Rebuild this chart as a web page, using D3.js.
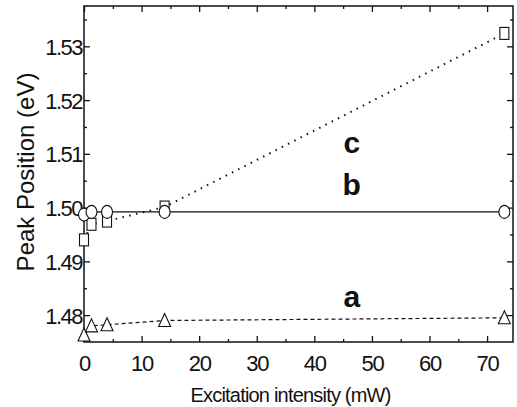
<!DOCTYPE html>
<html lang="en">
<head>
<meta charset="utf-8">
<style type="text/css">
    body { margin: 0; background: #fff; }
    text { font-family: "Liberation Sans", Arial, sans-serif; fill: #111; }
</style>
</head>
<body>
<script src="https://d3js.org/d3.v7.min.js"></script>
<script type="text/javascript">
    // excitation intensity (mW)
    var power = [0, 1.3, 4, 14, 73];
    // peak positions (eV)
    var seriesA = [1.4763, 1.4780, 1.4782, 1.4790, 1.4795];
    var seriesB = [1.4987, 1.4992, 1.4992, 1.4992, 1.4992];
    var seriesC = [1.4940, 1.4969, 1.4975, 1.5001, 1.5324];
    var xTicks = [0, 10, 20, 30, 40, 50, 60, 70];
    var xMinor = [5, 15, 25, 35, 45, 55, 65];
    var yTicks = [1.48, 1.49, 1.50, 1.51, 1.52, 1.53];
    var yMinor = [1.485, 1.495, 1.505, 1.515, 1.525, 1.535];

    var width = 517, height = 407;
    var plotLeft = 84, plotRight = 513, plotTop = 6, plotBottom = 342;

    var svg = d3.select("body").append("svg")
        .attr("width", width)
        .attr("height", height);

    var x = d3.scaleLinear().domain([0, 74.5]).range([plotLeft, plotRight]);
    var y = d3.scaleLinear().domain([1.475, 1.5375]).range([plotBottom, plotTop]);

    // axes with inward ticks
    function drawAxis(axis, tx, ty, labels) {
        var g = svg.append("g").attr("transform", "translate(" + tx + "," + ty + ")").call(axis);
        g.select(".domain").remove();
        g.selectAll(".tick line").attr("stroke", "#111").attr("stroke-width", 1.3);
        if (!labels) g.selectAll(".tick text").remove();
        return g;
    }

    var bx = drawAxis(d3.axisBottom(x).tickValues(xTicks).tickSize(-6).tickPadding(14).tickFormat(d3.format("d")), 0, plotBottom, true);
    bx.selectAll(".tick text").attr("font-size", 22).attr("letter-spacing", -1.2).attr("dy", "0.7em");
    drawAxis(d3.axisBottom(x).tickValues(xMinor).tickSize(-3), 0, plotBottom, false);
    drawAxis(d3.axisTop(x).tickValues(xTicks).tickSize(-6), 0, plotTop, false);
    drawAxis(d3.axisTop(x).tickValues(xMinor).tickSize(-3), 0, plotTop, false);

    var ly = drawAxis(d3.axisLeft(y).tickValues(yTicks).tickSize(-6).tickPadding(2).tickFormat(d3.format(".2f")), plotLeft, 0, true);
    ly.selectAll(".tick text").attr("font-size", 22).attr("letter-spacing", -1.5).attr("dy", "0.36em");
    drawAxis(d3.axisLeft(y).tickValues(yMinor).tickSize(-3), plotLeft, 0, false);
    drawAxis(d3.axisRight(y).tickValues(yTicks).tickSize(-6), plotRight, 0, false);
    drawAxis(d3.axisRight(y).tickValues(yMinor).tickSize(-3), plotRight, 0, false);

    // frame
    svg.append("rect")
        .attr("x", plotLeft).attr("y", plotTop)
        .attr("width", plotRight - plotLeft).attr("height", plotBottom - plotTop)
        .attr("fill", "none").attr("stroke", "#111").attr("stroke-width", 1.5);

    // axis titles
    svg.append("text")
        .attr("x", (plotLeft + plotRight) / 2 - 8).attr("y", 402)
        .attr("text-anchor", "middle")
        .attr("font-size", 20).attr("letter-spacing", -0.8)
        .text("Excitation intensity (mW)");

    svg.append("text")
        .attr("transform", "translate(34,172) rotate(-90)")
        .attr("text-anchor", "middle")
        .attr("font-size", 24)
        .text("Peak Position (eV)");

    var line = d3.line()
        .x(function (d, i) { return x(power[i]); })
        .y(function (d) { return y(d); });

    svg.append("path").datum(seriesA).attr("d", line)
        .attr("fill", "none").attr("stroke", "#111").attr("stroke-width", 1.2)
        .attr("stroke-dasharray", "4,3");
    svg.append("path").datum(seriesB).attr("d", line)
        .attr("fill", "none").attr("stroke", "#111").attr("stroke-width", 1.2);
    svg.append("path").datum(seriesC).attr("d", line)
        .attr("fill", "none").attr("stroke", "#111").attr("stroke-width", 2)
        .attr("stroke-dasharray", "1.5,5.5");

    // markers
    svg.selectAll(".sq").data(seriesC).enter().append("rect")
        .attr("class", "sq")
        .attr("x", function (d, i) { return x(power[i]) - 4.5; })
        .attr("y", function (d) { return y(d) - 6; })
        .attr("width", 9).attr("height", 12)
        .attr("fill", "#fff").attr("stroke", "#111").attr("stroke-width", 1.1);

    svg.selectAll(".tri").data(seriesA).enter().append("path")
        .attr("class", "tri")
        .attr("transform", function (d, i) { return "translate(" + x(power[i]) + "," + y(d) + ")"; })
        .attr("d", "M0,-7 L6,6 L-6,6 Z")
        .attr("fill", "#fff").attr("stroke", "#111").attr("stroke-width", 1.1);

    svg.selectAll(".circ").data(seriesB).enter().append("ellipse")
        .attr("class", "circ")
        .attr("cx", function (d, i) { return x(power[i]); })
        .attr("cy", function (d) { return y(d); })
        .attr("rx", 5.5).attr("ry", 6.5)
        .attr("fill", "#fff").attr("stroke", "#111").attr("stroke-width", 1.1);

    // series labels (baseline positions in data units)
    var seriesLabels = [["c", 1.5102], ["b", 1.5023], ["a", 1.4815]];
    svg.selectAll(".lbl").data(seriesLabels).enter().append("text")
        .attr("class", "lbl")
        .attr("x", x(46.5)).attr("y", function (d) { return y(d[1]); })
        .attr("text-anchor", "middle")
        .attr("font-size", 30).attr("font-weight", "bold")
        .text(function (d) { return d[0]; });
</script>
</body>
</html>
